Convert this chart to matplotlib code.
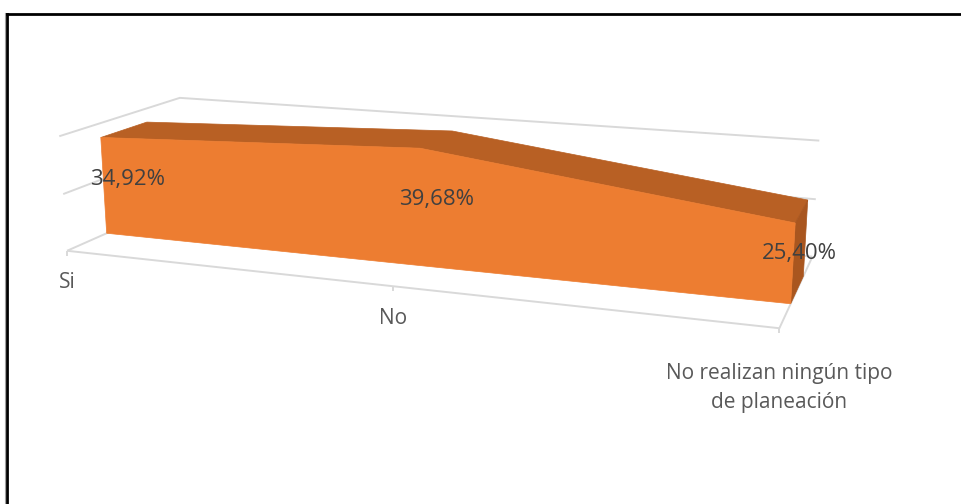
import numpy as np
import matplotlib
matplotlib.use("Agg")
import matplotlib.pyplot as plt
from matplotlib.patches import Polygon

# --- datos ---
categories = ["Si", "No", "No realizan ningún tipo\nde planeación"]
values = [34.92, 39.68, 25.40]
gridlines = [0, 20, 40]

# --- vista en perspectiva (x = categoría, y = valor/10, z = profundidad) ---
VIEW = np.array([
    [2.95052, -0.0223999, 0.553485, 0.67082],
    [0.129982, -0.292915, -0.0910177, 2.50784],
    [-0.0783832, -0.00481339, 0.0549463, 1.0],
])
Z_FRONT = 0.8   # cara frontal de la cinta
Z_BACK = 1.8    # cara trasera de la cinta
Z_WALL = 2.6    # pared del fondo


def proj(x, y, z):
    q = VIEW @ np.array([x, y / 10, z, 1.0])
    return q[0] / q[2] * 100, q[1] / q[2] * 100


fig = plt.figure(figsize=(9.61, 5.04), dpi=100)
ax = fig.add_axes([0, 0, 1, 1])
ax.set_xlim(0, 961)
ax.set_ylim(504, 0)
ax.axis("off")

last = len(values) - 1

# paredes y suelo
grid_kw = dict(color="#D9D9D9", lw=1.4, zorder=1, solid_capstyle="butt")
for g in gridlines:
    pts = [proj(0, g, 0), proj(0, g, Z_WALL), proj(last, g, Z_WALL)]
    ax.plot(*zip(*pts), **grid_kw)
ax.plot(*zip(proj(0, 0, 0), proj(last, 0, 0), proj(last, 0, Z_WALL)), **grid_kw)
for i in range(len(categories)):
    x0, y0 = proj(i, 0, 0)
    ax.plot([x0, x0], [y0, y0 + 5], **grid_kw)

# cinta 3D
xs = list(range(len(values)))
front = [proj(i, v, Z_FRONT) for i, v in zip(xs, values)] + \
        [proj(i, 0, Z_FRONT) for i in reversed(xs)]
top = [proj(i, v, Z_FRONT) for i, v in zip(xs, values)] + \
      [proj(i, values[i], Z_BACK) for i in reversed(xs)]
side = [proj(last, values[last], Z_FRONT), proj(last, values[last], Z_BACK),
        proj(last, 0, Z_BACK), proj(last, 0, Z_FRONT)]
ax.add_patch(Polygon(top, closed=True, fc="#B86024", ec="#B86024", lw=0.5, zorder=2))
ax.add_patch(Polygon(side, closed=True, fc="#A9561F", ec="#A9561F", lw=0.5, zorder=2))
ax.add_patch(Polygon(front, closed=True, fc="#ED7D31", ec="#ED7D31", lw=0.5, zorder=3))

# etiquetas de datos
for i, v in zip(xs, values):
    x, y = proj(i, v / 2, (Z_FRONT + Z_BACK) / 2)
    ax.text(x, y + 2.5, f"{v:.2f}%".replace(".", ","), ha="center", va="center",
            fontsize=16, family="Open Sans", color="#404040", zorder=5)

# etiquetas de categoría
for i, lab in enumerate(categories):
    x, y = proj(i, 0, 0)
    nlines = lab.count("\n") + 1
    ax.text(x, y + 32 + 27.5 * (nlines - 1), lab, ha="center", va="center",
            fontsize=15, family="Open Sans", color="#595959", linespacing=1.5)

# marco
ax.plot([4.5, 4.5], [13, 504], color="#A0A0A0", lw=0.8, zorder=6)
ax.plot([6.5, 961], [14, 14], color="black", lw=2, zorder=6)
ax.plot([6.5, 6.5], [14, 504], color="black", lw=2, zorder=6)

fig.savefig("out.png", dpi=100)
